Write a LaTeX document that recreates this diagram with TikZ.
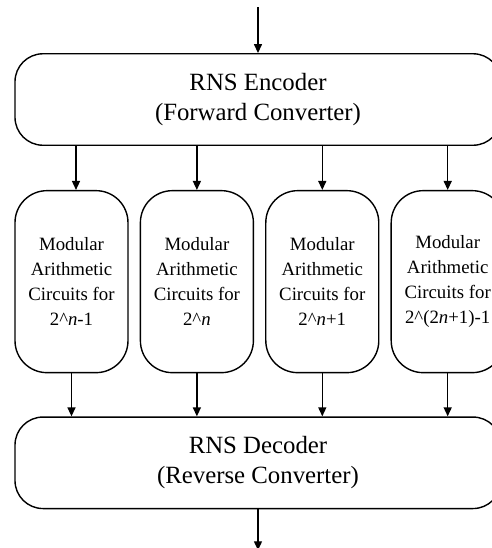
\documentclass[tikz,border=0pt]{standalone}
\usepackage{fontspec}
\setmainfont{Liberation Serif}
\usepackage{tikz}
\usetikzlibrary{positioning, arrows.meta}

\begin{document}
\begin{tikzpicture}[
			node distance=22pt and 5.5pt,
			conv/.style={rectangle, draw, line width=0.7pt, minimum width=243pt, minimum height=45.75pt, text centered, align=center, rounded corners=14pt, inner sep=0pt, font=\fontsize{12.4}{15}\selectfont},
			modbox/.style={rectangle, draw, line width=0.7pt, minimum width=56.5pt, minimum height=91pt, text centered, align=center, rounded corners=16pt, inner sep=0pt, font=\fontsize{9.4}{12.4}\selectfont},
			arrow/.style={line width=0.7pt, -{Triangle[length=4.5pt, width=4pt]}}
			]
			
			\useasboundingbox (-129pt,49.75pt) rectangle (117pt,-224.25pt);
			
			% Nodes
			\node[conv] (enc) at (0,0) {RNS Encoder\\(Forward Converter)};
			
			\node[modbox, below=of enc, xshift=-93.25pt] (m1) {Modular\\Arithmetic\\Circuits for\\2\textasciicircum\textit{n}-1};
			\node[modbox, right=of m1] (m2) {Modular\\Arithmetic\\Circuits for\\2\textasciicircum\textit{n}};
			\node[modbox, right=of m2] (m3) {Modular\\Arithmetic\\Circuits for\\2\textasciicircum\textit{n}+1};
			\node[modbox, right=of m3] (m4) {Modular\\Arithmetic\\Circuits for\\2\textasciicircum(2\textit{n}+1)-1};
			
			\coordinate (mid) at (enc |- m1.south);
			\node[conv, below=21.5pt of mid] (dec) {RNS Decoder\\(Reverse Converter)};
			
			\coordinate[above=23pt of enc.north] (in);
			\coordinate[below=20.5pt of dec.south] (out);
			
			% Arrows
			\draw[arrow] (in) -- (enc.north);
			\draw[arrow] ([xshift=2.25pt]enc.south -| m1) -- ([xshift=2.25pt]m1.north);
			\draw[arrow] (enc.south -| m2) -- (m2.north);
			\draw[arrow] (enc.south -| m3) -- (m3.north);
			\draw[arrow] (enc.south -| m4) -- (m4.north);
			
			\draw[arrow] (m1.south) -- (dec.north -| m1);
			\draw[arrow] (m2.south) -- (dec.north -| m2);
			\draw[arrow] (m3.south) -- (dec.north -| m3);
			\draw[arrow] (m4.south) -- (dec.north -| m4);
			\draw[arrow] (dec.south) -- (out);
			
		\end{tikzpicture}
\end{document}
